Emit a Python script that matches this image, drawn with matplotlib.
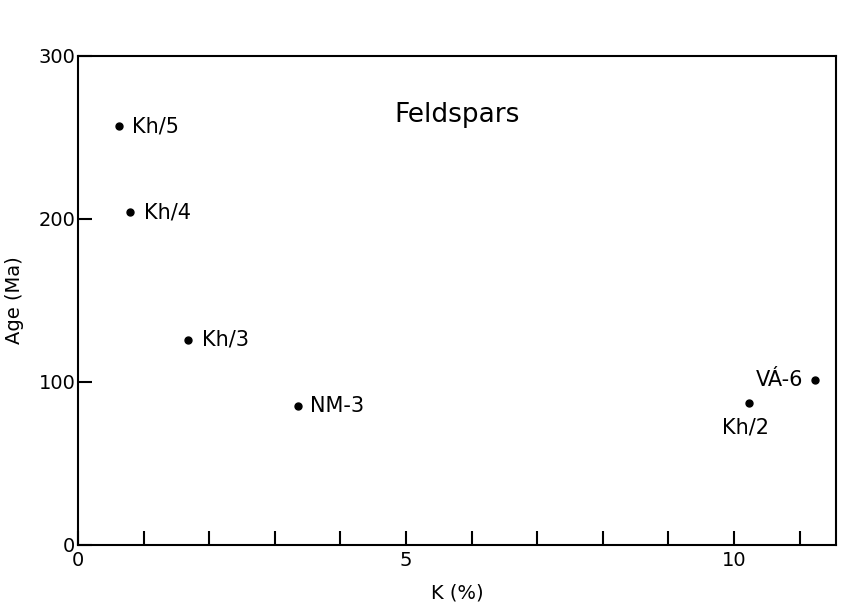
import matplotlib
matplotlib.use('Agg')
import matplotlib.pyplot as plt

# Feldspar samples: K content (%) and K/Ar age (Ma)
samples = ['Kh/5', 'Kh/4', 'Kh/3', 'NM-3', 'Kh/2', 'VÁ-6']
k_pct = [0.63, 0.79, 1.68, 3.35, 10.23, 11.23]
age_ma = [257, 204, 126, 85, 87, 101]

# label placement (offset in points, horizontal alignment, vertical alignment)
label_pos = {
    'Kh/5': ((9, 0), 'left', 'center'),
    'Kh/4': ((10, 0), 'left', 'center'),
    'Kh/3': ((10, 0), 'left', 'center'),
    'NM-3': ((9, 0), 'left', 'center'),
    'Kh/2': ((-3, -10), 'center', 'top'),
    'VÁ-6': ((-8, 0), 'right', 'center'),
}

plt.rcParams['font.family'] = ['DejaVu Sans']

fig = plt.figure(figsize=(8.67, 6.06), dpi=100)
ax = fig.add_axes([0.090, 0.1007, 0.874, 0.807])

ax.plot(k_pct, age_ma, 'o', color='black', markersize=5)
for name, x, y in zip(samples, k_pct, age_ma):
    off, ha, va = label_pos[name]
    ax.annotate(name, (x, y), xytext=off, textcoords='offset points',
                ha=ha, va=va, fontsize=15)

ax.text(0.5, 0.88, 'Feldspars', transform=ax.transAxes, ha='center',
        va='center', fontsize=19)

ax.set_xlim(0, 11.55)
ax.set_ylim(0, 300)
ax.set_xticks(range(0, 12))
ax.set_xticklabels(['0', '', '', '', '', '5', '', '', '', '', '10', ''])
ax.set_yticks([0, 100, 200, 300])
ax.tick_params(axis='x', direction='in', length=10, width=1.5, labelsize=14, pad=4)
ax.tick_params(axis='y', direction='in', length=10, width=1.5, labelsize=14, pad=2)
for s in ax.spines.values():
    s.set_linewidth(1.5)

ax.set_xlabel('K (%)', fontsize=14, labelpad=10)
ax.set_ylabel('Age (Ma)', fontsize=14, labelpad=10)

fig.savefig('out.png', dpi=100, facecolor='white')
